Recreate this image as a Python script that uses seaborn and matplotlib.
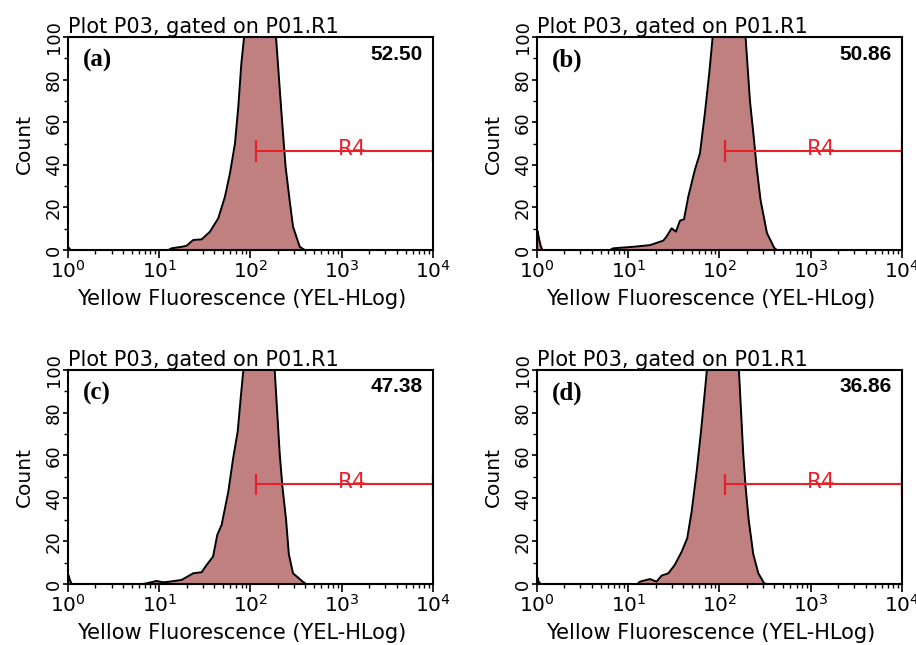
import matplotlib
matplotlib.use("Agg")
import matplotlib.pyplot as plt
import matplotlib.ticker as mticker
import numpy as np
import pandas as pd
import seaborn as sns

# histogram outlines: log10 position on YEL-HLog and count
LOGX_A = [0.0, 0.01, 0.03, 1.10, 1.136, 1.246, 1.30, 1.373, 1.465, 1.556, 1.647, 1.72,
          1.775, 1.83, 1.866, 1.90, 1.93, 2.02, 2.12, 2.22, 2.28, 2.33, 2.356, 2.385,
          2.43, 2.466, 2.54, 2.594, 4.0]
COUNT_A = [0, 1, 0, 0, 0.8, 1.5, 2, 4.7, 5, 8.6, 14.9, 25,
           36, 50, 67, 87.6, 100, 125, 140, 125, 100, 70, 55, 39,
           23, 11, 1.5, 0, 0]

LOGX_B = [0.0, 0.005, 0.02, 0.04, 0.06, 0.80, 0.836, 1.055, 1.24, 1.384, 1.42, 1.476,
          1.523, 1.567, 1.611, 1.658, 1.73, 1.786, 1.84, 1.888, 1.925, 2.02, 2.12,
          2.22, 2.286, 2.334, 2.378, 2.407, 2.45, 2.52, 2.60, 2.63, 4.0]
COUNT_B = [0, 9, 6, 2, 0, 0, 0.8, 1.5, 2.3, 4.4, 6.3, 10.2,
           8.6, 13.8, 14.4, 25, 37.6, 45.4, 64.2, 83, 100, 125, 140,
           125, 100, 70, 52, 39, 23.5, 8, 1, 0, 0]

LOGX_C = [0.0, 0.005, 0.02, 0.04, 0.82, 0.86, 0.97, 1.04, 1.10, 1.246, 1.373, 1.465,
          1.52, 1.59, 1.636, 1.684, 1.757, 1.81, 1.86, 1.896, 1.92, 2.0, 2.1, 2.2,
          2.265, 2.32, 2.35, 2.39, 2.42, 2.466, 2.575, 2.61, 4.0]
COUNT_C = [0, 4, 2, 0, 0, 0.3, 1.4, 0.8, 1, 1.9, 5, 5.5,
           8.9, 12.8, 22.9, 27.6, 43.1, 58.7, 71.2, 88.3, 99, 125, 140, 125,
           100, 61, 45.5, 30, 14, 5, 1, 0, 0]

LOGX_D = [0.0, 0.005, 0.02, 0.04, 1.10, 1.129, 1.238, 1.31, 1.366, 1.44, 1.51, 1.586,
          1.647, 1.695, 1.75, 1.797, 1.84, 1.86, 1.95, 2.04, 2.13, 2.213, 2.26, 2.286,
          2.32, 2.37, 2.426, 2.49, 2.52, 4.0]
COUNT_D = [0, 3, 1, 0, 0, 1.1, 2.3, 1.1, 3.9, 5, 8.9, 15.1,
           21.4, 33.8, 52.5, 71, 89.9, 99, 125, 140, 125, 100, 61, 45.5,
           30, 14, 5, 0.3, 0, 0]

PANEL_LABELS = ["(a)", "(b)", "(c)", "(d)"]
GATE_PERCENT = ["52.50", "50.86", "47.38", "36.86"]
GATE_NAME = "R4"
GATE_RANGE = [116, 10000]
GATE_LEVEL = 46.5

TITLE = "Plot P03, gated on P01.R1"
XLABEL = "Yellow Fluorescence (YEL-HLog)"
YLABEL = "Count"

FILL = "#c08080"
RED = "#e8202a"

sns.set_style("ticks")
plt.rcParams["font.family"] = ["DejaVu Sans"]
plt.rcParams["text.color"] = "black"
plt.rcParams["axes.labelcolor"] = "black"
plt.rcParams["xtick.color"] = "black"
plt.rcParams["ytick.color"] = "black"


def plot_panel(ax, logx, count, label, percent):
    """Draw one gated histogram with its R4 marker."""
    df = pd.DataFrame({"x": np.power(10.0, logx), "count": count})
    ax.fill_between(df["x"], 0, df["count"], color=FILL, lw=0)
    sns.lineplot(data=df, x="x", y="count", ax=ax, color="black", lw=1.4,
                 sort=False, estimator=None)
    ax.set_xscale("log")
    ax.set_xlim(1, 1e4)
    ax.set_ylim(0, 100)

    # gate marker
    ax.plot(GATE_RANGE, [GATE_LEVEL, GATE_LEVEL], color=RED, lw=1.5)
    ax.vlines(GATE_RANGE, GATE_LEVEL - 5, GATE_LEVEL + 5, color=RED, lw=1.6)
    ax.text(np.sqrt(GATE_RANGE[0] * GATE_RANGE[1]) * 1.2, GATE_LEVEL + 1, GATE_NAME,
            color=RED, ha="center", va="center", fontsize=15.5)

    ax.text(0.04, 0.89, label, transform=ax.transAxes, ha="left", va="center",
            fontsize=18, fontweight="bold", family="Liberation Serif")
    ax.text(0.973, 0.92, percent, transform=ax.transAxes, ha="right", va="center",
            fontsize=15, fontweight="bold", family="Liberation Sans")

    ax.set_title(TITLE, loc="left", fontsize=15, pad=2)
    ax.set_xlabel(XLABEL, fontsize=15, labelpad=5)
    ax.xaxis.label.set_x(0.475)
    ax.set_ylabel(YLABEL, fontsize=14.5, labelpad=8)

    ax.yaxis.set_major_locator(mticker.MultipleLocator(20))
    ax.yaxis.set_minor_locator(mticker.MultipleLocator(10))
    ax.xaxis.set_major_locator(mticker.LogLocator(base=10, numticks=10))
    ax.xaxis.set_minor_locator(mticker.LogLocator(base=10, subs=np.arange(2, 10), numticks=10))
    ax.xaxis.set_minor_formatter(mticker.NullFormatter())
    ax.tick_params(axis="x", which="major", length=6, width=1.2, labelsize=14.5, pad=1)
    ax.tick_params(axis="y", which="major", length=3.5, width=1.2, labelsize=13, pad=0)
    ax.tick_params(axis="both", which="minor", length=3, width=1.0)
    for t in ax.get_yticklabels():
        t.set_rotation(90)
        t.set_va("center")
    for sp in ax.spines.values():
        sp.set_visible(True)
        sp.set_linewidth(1.5)
        sp.set_color("black")


fig = plt.figure(figsize=(9.16, 6.45), dpi=100)
positions = [
    [0.0742, 0.6124, 0.3985, 0.330],
    [0.5862, 0.6124, 0.3985, 0.330],
    [0.0742, 0.0946, 0.3985, 0.332],
    [0.5862, 0.0946, 0.3985, 0.332],
]
data = [(LOGX_A, COUNT_A), (LOGX_B, COUNT_B), (LOGX_C, COUNT_C), (LOGX_D, COUNT_D)]

for pos, (lx, cnt), lab, pct in zip(positions, data, PANEL_LABELS, GATE_PERCENT):
    ax = fig.add_axes(pos)
    plot_panel(ax, lx, cnt, lab, pct)

fig.savefig("out.png", dpi=100)
